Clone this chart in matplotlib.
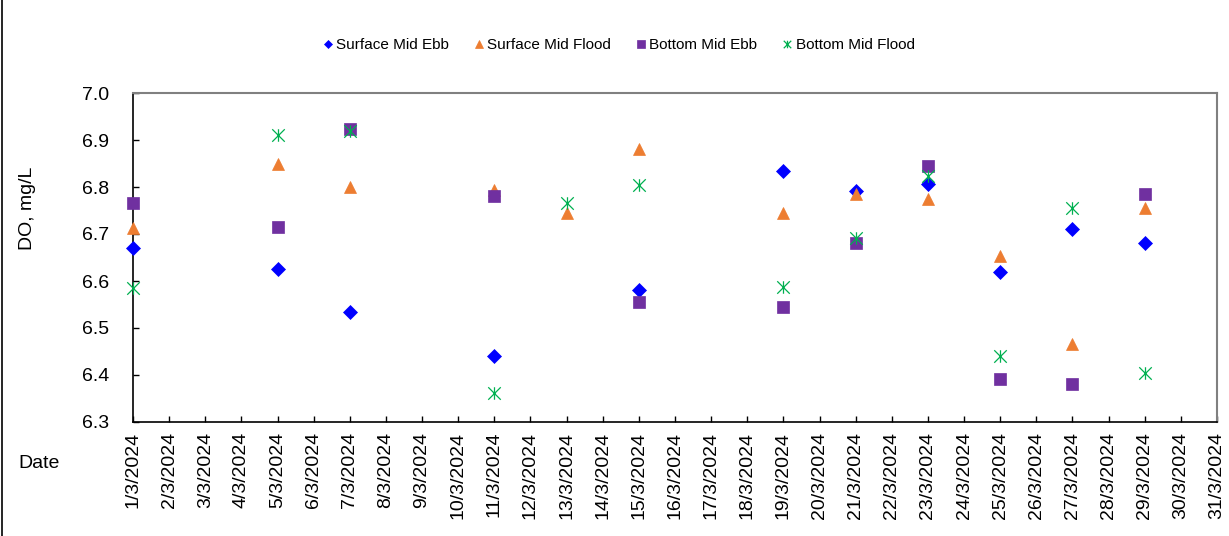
import numpy as np
import pandas as pd
import matplotlib
matplotlib.use("Agg")
import matplotlib.pyplot as plt
import matplotlib.dates as mdates
from matplotlib.path import Path
from matplotlib.lines import Line2D

# Sampling dates and DO readings (mg/L)
dates = ["1/3/2024", "5/3/2024", "7/3/2024", "11/3/2024", "13/3/2024", "15/3/2024",
         "19/3/2024", "21/3/2024", "23/3/2024", "25/3/2024", "27/3/2024", "29/3/2024"]
surface_ebb = [6.670, 6.626, 6.534, 6.440, np.nan, 6.581, 6.834, 6.792, 6.806, 6.619, 6.711, 6.681]
surface_flood = [6.713, 6.849, 6.800, 6.794, 6.745, 6.881, 6.745, 6.785, 6.774, 6.653, 6.466, 6.755]
bottom_ebb = [6.766, 6.715, 6.923, 6.781, np.nan, 6.555, 6.545, 6.681, 6.845, 6.391, 6.381, 6.785]
bottom_flood = [6.585, 6.911, 6.919, 6.362, 6.766, 6.804, 6.587, 6.691, 6.823, 6.440, 6.755, 6.404]

plt.rcParams['font.family'] = ['Liberation Sans', 'DejaVu Sans']

# asterisk marker: X plus vertical bar
star = Path([(-1, -1), (1, 1), (-1, 1), (1, -1), (0, -1), (0, 1)],
            [Path.MOVETO, Path.LINETO, Path.MOVETO, Path.LINETO, Path.MOVETO, Path.LINETO])

x = pd.to_datetime(dates, dayfirst=True)

fig = plt.figure(figsize=(12.29, 5.36), dpi=100)
ax = fig.add_axes([133/1229, 1-422/536, (1217-133)/1229, (422-93)/536])

series = [
	("Surface Mid Ebb", surface_ebb, dict(marker='D', ms=6.8, color='#0000FF')),
	("Surface Mid Flood", surface_flood, dict(marker='^', ms=9, color='#ED7D31')),
	("Bottom Mid Ebb", bottom_ebb, dict(marker='s', ms=9, color='#7030A0')),
	("Bottom Mid Flood", bottom_flood, dict(marker=star, ms=9, color='#00B050', mew=0.9, mfc='none')),
]
for label, vals, st in series:
	kw = dict(linestyle='none', mew=0.5, clip_on=False, zorder=3)
	kw.update(st)
	kw.setdefault('mec', kw['color'])
	ax.plot(x, vals, label=label, **kw)

# Axes config
ax.set_xlim(pd.Timestamp("2024-03-01"), pd.Timestamp("2024-03-31"))
ax.set_ylim(6.3, 7.0)
ax.set_yticks(np.arange(6.3, 7.01, 0.1))
ax.yaxis.set_major_formatter(matplotlib.ticker.FormatStrFormatter('%.1f'))
ax.xaxis.set_major_locator(mdates.DayLocator())
ax.xaxis.set_major_formatter(mdates.DateFormatter('%-d/%-m/%Y'))
ax.tick_params(axis='x', direction='in', length=4, width=1, labelsize=14, rotation=90, pad=7)
ax.tick_params(axis='y', direction='in', length=4, width=1, labelsize=14, pad=17)
for s in ['left', 'bottom']:
	ax.spines[s].set_color('black')
	ax.spines[s].set_linewidth(1.2)
for s in ['top', 'right']:
	ax.spines[s].set_color('#808080')
	ax.spines[s].set_linewidth(1.5)

fig.text(27/1229, 1-208/536, 'DO, mg/L', rotation=90, ha='center', va='center', fontsize=14)
fig.text(18/1229, 1-464/536, 'Date', ha='left', va='center', fontsize=14)

fig.legend(loc='center', bbox_to_anchor=(619/1229, 1-45/536), ncol=4, frameon=False,
		   fontsize=11, markerscale=0.6, handlelength=0.6, handletextpad=0.25,
		   columnspacing=1.65, borderaxespad=0)

# chart border on the left edge
fig.add_artist(Line2D([1.5/1229, 1.5/1229], [0, 1], color='black', lw=1.2, transform=fig.transFigure))

fig.savefig('out.png', dpi=100)
